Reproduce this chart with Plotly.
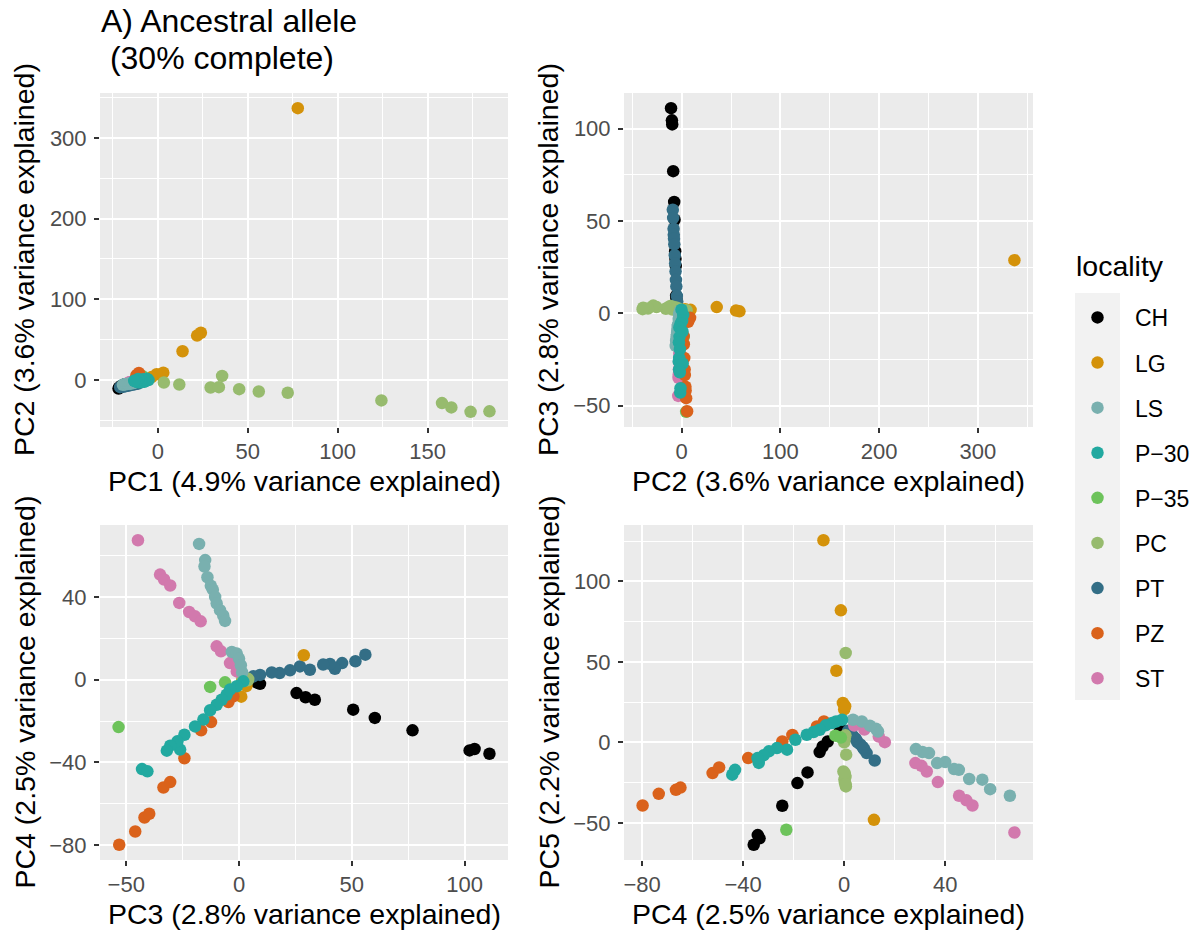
import plotly.graph_objects as go

W, H = 1198, 935

# ---- sample scores on the first five principal components, by locality ----
LOCALITIES = ["CH", "LG", "LS", "P−30", "P−35", "PC", "PT", "PZ", "ST"]

COLORS = {
    "CH": "#000000", "LG": "#D4920A", "LS": "#79B0AF", "P−30": "#22A9A0",
    "P−35": "#6DC35B", "PC": "#97BB6E", "PT": "#336E86", "PZ": "#DA621B",
    "ST": "#D279AD",
}

PC1 = {
    "CH": [-21.9, -21.6, -21.4, -20.9, -20.4, -20.0, -19.5, -19.2, -18.9, -18.4, -18.1],
    "PT": [-21.0, -20.2, -19.4, -18.8, -18.2, -17.4, -16.6, -15.8, -15.0, -14.0, -13.0, -12.0, -11.0],
    "LS": [-19.5, -18.8, -18.2, -17.6, -17.0, -16.4, -15.8, -15.2, -14.6, -14.0, -13.4, -12.8, -12.2, -11.6, -11.0, -10.5],
    "ST": [-16.5, -16.0, -15.6, -15.2, -14.8, -14.4, -14.0, -13.6, -13.0, -12.6, -12.2, -11.8],
    "PZ": [-12.0, -11.5, -11.2, -10.8, -10.5, -10.2, -10.0, -9.6, -9.3, -11.3, -10.6],
    "P−30": [-5.2, -6.1, -6.4, -7.3, -7.6, -8.2, -8.4, -9.1, -9.6, -9.9, -10.7, -11.0, -11.6, -12.1, -12.8, -13.2],
    "LG": [77.8, 23.9, 21.8, 13.7, 3.0, -0.7, -3.5],
    "PC": [3.3, 11.9, 29.3, 33.9, 35.7, 45.2, 56.1, 72.2, 124.3, 158.0, 163.2, 173.9, 184.4],
    "P−35": [-8.5, -7.8, -9.2],
}

PC2 = {
    "CH": [-10.8, -9.9, -9.6, -8.6, -7.6, -7.2, -6.6, -6.3, -6.0, -5.6, -5.3],
    "PT": [-9.0, -8.6, -8.2, -8.0, -7.8, -7.5, -7.0, -6.6, -6.2, -5.8, -5.4, -4.9, -4.5],
    "LS": [-6.0, -5.6, -5.4, -5.2, -5.0, -4.8, -4.6, -4.4, -4.2, -4.0, -3.8, -3.0, -2.6, -2.2, -1.8, -1.5],
    "ST": [-3.5, -3.2, -3.0, -2.8, -2.6, -2.4, -2.2, -2.0, -1.6, -1.4, -1.2, -1.0],
    "PZ": [5.5, 4.5, 4.0, 3.8, 3.2, 3.0, 2.6, 2.2, 2.0, 6.5, 8.5],
    "P−30": [-0.2, 1.5, 0.5, -1.0, -2.4, 0.8, -2.2, -2.8, -1.8, -2.5, -3.0, 1.0, -2.6, -1.9, -1.5, -1.2],
    "LG": [337.0, 58.5, 55.0, 35.5, 9.0, 7.0, 3.5],
    "PC": [-3.2, -5.7, -9.4, -9.0, 4.9, -11.5, -14.4, -16.0, -25.5, -28.8, -34.1, -39.6, -39.0],
    "P−35": [4.5, 2.0, 0.5],
}

PC3 = {
    "CH": [111.0, 104.4, 102.2, 76.9, 60.2, 50.6, 33.6, 29.5, 25.5, 9.3, 7.8],
    "PT": [56.0, 51.6, 45.7, 42.5, 40.3, 37.3, 31.4, 27.0, 22.6, 18.0, 14.5, 9.3, 6.3],
    "LS": [-17.7, -15.0, -15.3, -14.0, -12.5, -11.6, -10.6, -9.9, -8.4, -7.0, -6.2, -3.2, -1.0, 0.0, 0.8, 1.4],
    "ST": [-44.8, -35.0, -33.2, -30.5, -26.5, -22.1, -19.5, -17.0, -9.9, -8.0, -4.0, -1.0],
    "PZ": [-53.1, -46.0, -41.9, -39.8, -33.5, -30.5, -24.2, -16.8, -12.4, -4.7, -2.5],
    "P−30": [1.9, -1.0, -4.0, -5.5, -7.7, -9.9, -12.8, -15.8, -19.5, -24.2, -26.1, -27.3, -30.5, -32.0, -43.0, -40.6],
    "LG": [28.7, 1.0, 1.4, 3.3, 1.8, 1.5, 2.2],
    "PC": [2.6, 3.1, 2.0, 3.5, 1.6, 3.9, 3.0, 2.4, 3.3, 4.1, 2.5, 2.2, 3.0],
    "P−35": [-53.4, -12.8, -6.2],
}

PC4 = {
    "CH": [-35.8, -33.5, -34.2, -24.5, -18.5, -14.5, -9.7, -8.5, -6.5, -2.0, -1.3],
    "PT": [12.1, 8.9, 8.0, 5.3, 7.6, 7.3, 4.8, 6.4, 4.5, 3.2, 3.5, 2.3, 1.6],
    "LS": [65.6, 57.8, 54.7, 49.5, 45.4, 43.5, 40.0, 36.8, 33.6, 31.0, 28.4, 13.4, 12.6, 10.2, 7.0, 3.5],
    "ST": [67.4, 50.8, 48.4, 45.5, 37.1, 32.7, 30.6, 28.2, 16.1, 13.7, 8.0, 4.0],
    "PZ": [-79.8, -73.4, -66.6, -64.8, -52.1, -49.5, -38.0, -24.5, -20.5, -10.8, -8.0],
    "P−30": [-0.8, -3.2, -4.8, -7.3, -9.7, -12.1, -14.8, -19.3, -22.6, -26.6, -33.8, -29.8, -31.9, -34.3, -43.2, -44.3],
    "LG": [11.8, -8.2, -1.3, -3.1, -0.5, 0.0, 0.4],
    "PC": [0.5, 0.2, 0.8, 0.0, 0.6, -0.3, 0.4, 0.1, 0.7, 0.3, 0.5, 0.2, 0.6],
    "P−35": [-22.9, -3.5, -1.3],
}

PC5 = {
    "CH": [-63.5, -59.5, -57.5, -39.3, -25.2, -18.6, -6.0, -2.5, 0.6, 6.0, 7.9],
    "PT": [-11.2, -6.6, -4.5, 0.0, -3.5, -2.8, 1.6, -1.2, 2.4, 4.4, 3.9, 5.8, 7.2],
    "LS": [-33.1, -29.0, -23.1, -22.7, -17.0, -16.5, -12.2, -12.8, -6.6, -5.9, -4.1, 6.8, 8.5, 10.4, 13.0, 14.1],
    "ST": [-55.9, -39.1, -35.9, -33.1, -24.6, -18.0, -14.5, -12.8, 0.2, 3.7, 8.0, 10.5],
    "PZ": [-39.1, -31.9, -29.4, -28.0, -19.0, -15.5, -9.7, 0.6, 4.7, 9.9, 13.0],
    "P−30": [14.1, 13.0, 12.0, 10.6, 7.9, 6.5, 4.8, 1.7, -4.5, -3.5, -12.7, -5.5, -8.0, -9.7, -17.0, -20.0],
    "LG": [-48.0, 125.5, 82.0, 44.5, 24.5, 20.5, 22.5],
    "PC": [4.4, 2.0, -7.6, 0.0, 55.5, -18.0, -20.5, -23.0, -27.3, -25.0, -21.5, -19.0, -26.0],
    "P−35": [-54.2, 4.2, 3.0],
}

PCS = [PC1, PC2, PC3, PC4, PC5]
VARIANCE = ["4.9%", "3.6%", "2.8%", "2.5%", "2.2%"]

# order in which the groups are drawn (later ones sit on top)
DRAW_ORDER = ["CH", "PT", "LG", "PC", "ST", "LS", "P−35", "PZ", "P−30"]

# ---- panel geometry (pixels) ----
COLS = [(100, 508), (624, 1033)]
ROWS = [(93, 427), (525, 860)]
PANELS = [  # (x PC index, y PC index, column, row, x dtick, y dtick)
    (0, 1, 0, 0, 50, 100),
    (1, 2, 1, 0, 100, 50),
    (2, 3, 0, 1, 50, 40),
    (3, 4, 1, 1, 40, 50),
]

FONT = "Liberation Sans, Arial, Helvetica, sans-serif"


def px_x(v):
    return v / W


def px_y(v):
    return 1 - v / H


def expanded(pc):
    vals = [v for loc in pc for v in pc[loc]]
    lo, hi = min(vals), max(vals)
    pad = 0.05 * (hi - lo)
    return [lo - pad, hi + pad]


def axis_style(dtick, rng, domain, anchor, standoff):
    return dict(
        domain=domain, anchor=anchor, range=rng, autorange=False,
        tick0=0, dtick=dtick,
        showgrid=True, gridcolor="white", gridwidth=1.7,
        minor=dict(tick0=0, dtick=dtick / 2, showgrid=True,
                   gridcolor="white", gridwidth=0.8),
        ticks="outside", ticklen=5, tickwidth=1.5, tickcolor="#333333",
        ticklabelstandoff=standoff,
        tickfont=dict(family=FONT, size=22, color="#4D4D4D"),
        zeroline=False, showline=False,
    )


fig = go.Figure()
layout = {}
annotations = []

for i, (xi, yi, col, row, xdt, ydt) in enumerate(PANELS):
    n = "" if i == 0 else str(i + 1)
    xref, yref = "x" + n, "y" + n
    xdom = [px_x(COLS[col][0]), px_x(COLS[col][1])]
    ydom = [px_y(ROWS[row][1]), px_y(ROWS[row][0])]
    layout["xaxis" + n] = axis_style(xdt, expanded(PCS[xi]), xdom, yref, 0)
    layout["yaxis" + n] = axis_style(ydt, expanded(PCS[yi]), ydom, xref, 3)

    for loc in DRAW_ORDER:
        fig.add_trace(go.Scatter(
            x=PCS[xi][loc], y=PCS[yi][loc], mode="markers", name=loc,
            xaxis=xref, yaxis=yref,
            marker=dict(size=12.5, color=COLORS[loc], line=dict(width=0)),
            legendgroup=loc, showlegend=(i == 0),
            legendrank=LOCALITIES.index(loc) + 1,
        ))

    # axis titles
    cx = (COLS[col][0] + COLS[col][1]) / 2
    cy = (ROWS[row][0] + ROWS[row][1]) / 2
    annotations.append(dict(
        text=f"PC{xi + 1} ({VARIANCE[xi]} variance explained)",
        x=px_x(cx), y=px_y(ROWS[row][1] + 54), xref="paper", yref="paper",
        xanchor="center", yanchor="middle", showarrow=False,
        font=dict(family=FONT, size=28.5, color="black"),
    ))
    annotations.append(dict(
        text=f"PC{yi + 1} ({VARIANCE[yi]} variance explained)",
        x=px_x(COLS[col][0] - 76), y=px_y(cy), xref="paper", yref="paper",
        xanchor="center", yanchor="middle", textangle=-90, showarrow=False,
        font=dict(family=FONT, size=28.5, color="black"),
    ))

# plot title, two lines
annotations.append(dict(
    text="A) Ancestral allele", x=px_x(99), y=px_y(21), xref="paper", yref="paper",
    xanchor="left", yanchor="middle", showarrow=False,
    font=dict(family=FONT, size=32, color="black"),
))
annotations.append(dict(
    text="\u00a0(30% complete)", x=px_x(99), y=px_y(57.5), xref="paper", yref="paper",
    xanchor="left", yanchor="middle", showarrow=False,
    font=dict(family=FONT, size=32, color="black"),
))
# legend heading
annotations.append(dict(
    text="locality", x=px_x(1074), y=px_y(266), xref="paper", yref="paper",
    xanchor="left", yanchor="middle", showarrow=False,
    font=dict(family=FONT, size=28.5, color="black"),
))

fig.update_layout(
    width=W, height=H,
    margin=dict(l=0, r=0, t=0, b=0, autoexpand=False),
    paper_bgcolor="white", plot_bgcolor="#EBEBEB",
    font=dict(family=FONT, color="black"),
    annotations=annotations,
    shapes=[dict(type="rect", xref="paper", yref="paper",
                 x0=px_x(1075), x1=px_x(1120), y0=px_y(700), y1=px_y(293),
                 fillcolor="#F2F2F2", line=dict(width=0), layer="below")],
    legend=dict(
        x=px_x(1060), xanchor="left", y=px_y(296), yanchor="top",
        font=dict(family=FONT, size=23, color="black"),
        itemwidth=65, tracegroupgap=12.2, itemsizing="trace",
        bgcolor="rgba(0,0,0,0)",
    ),
    showlegend=True,
    **layout,
)

fig.write_html("out.html")
